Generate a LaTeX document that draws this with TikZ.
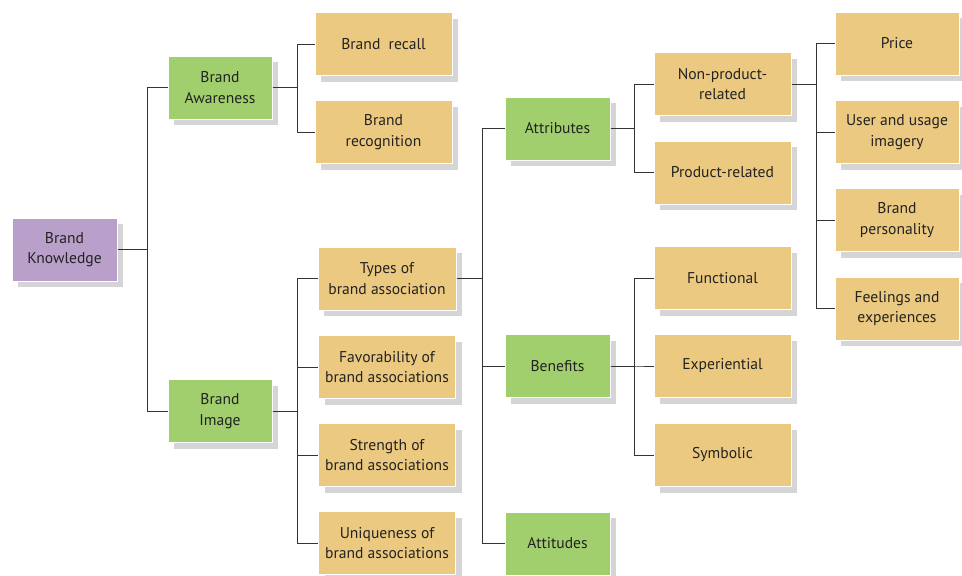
\documentclass[tikz,border=0pt]{standalone}
\usepackage{fontspec}
\setmainfont{PT Sans}
\usepackage{tikz}
\usetikzlibrary{shadows,positioning}
\definecolor{kpurple}{HTML}{B9A0CB}
\definecolor{kgreen}{HTML}{A2CF6E}
\definecolor{ktan}{HTML}{ECC980}
\definecolor{kshadow}{HTML}{D5D5D7}
\definecolor{kline}{HTML}{333333}
\definecolor{ktext}{HTML}{222222}
\tikzset{
    box/.style={rectangle, draw=white, line width=1pt, inner sep=2pt, align=center,
        text=ktext, font=\fontsize{15.6}{20.5}\selectfont, minimum height=63,
        drop shadow={shadow xshift=6pt, shadow yshift=-6pt, fill=kshadow, opacity=1}},
    rootbox/.style={box, fill=kpurple, minimum width=105},
    midbox/.style={box, fill=kgreen, minimum width=104},
    leafbox/.style={box, fill=ktan, minimum width=137},
    link/.style={draw=kline, line width=1pt}
}
\begin{document}
\begin{tikzpicture}[x=1pt, y=-1pt]
    \useasboundingbox (0,0) rectangle (962,576);
    % Nodes
    \node[rootbox] (K) at (64.5,249.5) {Brand\\Knowledge};
    \node[midbox] (Aw) at (220,87.5) {Brand\\Awareness};
    \node[midbox] (Im) at (220,411) {Brand\\Image};
    \node[leafbox] (Rc) at (383.5,44) {Brand~ recall};
    \node[leafbox] (Rg) at (383.5,132) {Brand\\recognition};
    \node[leafbox, minimum width=138] (Ty) at (387,278.5) {Types of\\brand association};
    \node[leafbox] (Fa) at (387,367) {Favorability of\\brand associations};
    \node[leafbox] (St) at (387,455) {Strength of\\brand associations};
    \node[leafbox] (Un) at (387,543) {Uniqueness of\\brand associations};
    \node[midbox, minimum width=105] (At) at (557.5,128.5) {Attributes};
    \node[midbox, minimum width=105] (Be) at (557.5,366) {Benefits};
    \node[midbox, minimum width=105] (Ad) at (557.5,543.5) {Attitudes};
    \node[leafbox] (Np) at (722.5,84) {Non-product-\\related};
    \node[leafbox] (Pr) at (722.5,172.5) {Product-related};
    \node[leafbox] (Fu) at (722.5,278) {Functional};
    \node[leafbox] (Ex) at (722.5,366) {Experiential};
    \node[leafbox] (Sy) at (722.5,455) {Symbolic};
    \node[leafbox, minimum width=124] (Pc) at (897,43.5) {Price};
    \node[leafbox, minimum width=124] (Us) at (897,132) {User and usage\\imagery};
    \node[leafbox, minimum width=124] (Bp) at (897,220) {Brand\\personality};
    \node[leafbox, minimum width=124] (Fe) at (897,308.5) {Feelings and\\experiences};

    % bus points
    \coordinate (kbus) at (147,249.5);
    \coordinate (awbus) at (297,87.5);
    \coordinate (imbus) at (297,411);
    \coordinate (tybus) at (482,278.5);
    \coordinate (atbus) at (634,128.5);
    \coordinate (bebus) at (634,366);
    \coordinate (npbus) at (816,84);

    % edges
    \draw[link] (K.east) -- (kbus) |- (Aw.west);
    \draw[link] (K.east) -- (kbus) |- (Im.west);
    \draw[link] (Aw.east) -- (awbus) |- (Rc.west);
    \draw[link] (Aw.east) -- (awbus) |- (Rg.west);
    \foreach \c in {Ty,Fa,St,Un}
        \draw[link] (Im.east) -- (imbus) |- (\c.west);
    \foreach \c in {At,Be,Ad}
        \draw[link] (Ty.east) -- (tybus) |- (\c.west);
    \foreach \c in {Np,Pr}
        \draw[link] (At.east) -- (atbus) |- (\c.west);
    \foreach \c in {Fu,Ex,Sy}
        \draw[link] (Be.east) -- (bebus) |- (\c.west);
    \foreach \c in {Pc,Us,Bp,Fe}
        \draw[link] (Np.east) -- (npbus) |- (\c.west);
\end{tikzpicture}
\end{document}
